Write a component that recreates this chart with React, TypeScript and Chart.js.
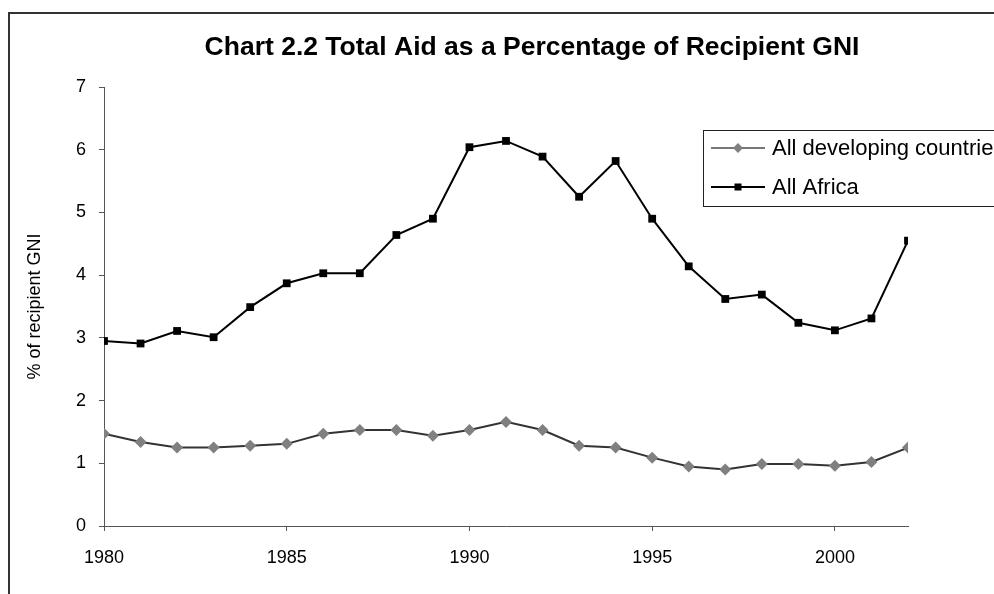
import { useEffect, useRef } from "react";
import { Chart, registerables } from "chart.js";

Chart.register(...registerables);

const TITLE = "Chart 2.2 Total Aid as a Percentage of Recipient GNI";
const Y_TITLE = "% of recipient GNI";
const YEARS = [1980, 1981, 1982, 1983, 1984, 1985, 1986, 1987, 1988, 1989, 1990, 1991, 1992, 1993, 1994, 1995, 1996, 1997, 1998, 1999, 2000, 2001, 2002];
const SERIES_LABELS = ["All developing countries", "All Africa"];
const DEVELOPING = [1.47, 1.34, 1.25, 1.25, 1.28, 1.31, 1.47, 1.53, 1.53, 1.44, 1.53, 1.66, 1.53, 1.28, 1.25, 1.09, 0.95, 0.9, 0.99, 0.99, 0.96, 1.02, 1.25];
const AFRICA = [2.95, 2.91, 3.11, 3.01, 3.49, 3.87, 4.03, 4.03, 4.64, 4.9, 6.04, 6.14, 5.89, 5.25, 5.82, 4.9, 4.14, 3.62, 3.69, 3.24, 3.12, 3.31, 4.55];
const X_TICKS = [1980, 1985, 1990, 1995, 2000];
const Y_TICKS = [0, 1, 2, 3, 4, 5, 6, 7];

const FONT = '"Liberation Sans", Arial, sans-serif';

const titlePlugin = {
  id: "customTitle",
  afterDraw(chart: any) {
    const ctx = chart.ctx;
    ctx.save();
    ctx.font = `bold 26.5px ${FONT}`;
    ctx.fillStyle = "#000";
    ctx.textAlign = "center";
    ctx.textBaseline = "middle";
    ctx.fillText(TITLE, 532, 48);
    ctx.restore();
  },
};

const legendPlugin = {
  id: "insideLegend",
  afterDraw(chart: any) {
    const ctx = chart.ctx;
    ctx.save();
    ctx.strokeStyle = "#222";
    ctx.lineWidth = 1;
    ctx.strokeRect(703.5, 130.5, 400, 76);
    const rows = [148, 187];
    chart.data.datasets.forEach((ds: any, i: number) => {
      const y = rows[i];
      ctx.strokeStyle = ds.legendLineColor || ds.borderColor;
      ctx.lineWidth = 2;
      ctx.beginPath();
      ctx.moveTo(711, y);
      ctx.lineTo(765, y);
      ctx.stroke();
      ctx.fillStyle = ds.pointBackgroundColor;
      ctx.beginPath();
      if (ds.pointStyle === "rectRot") {
        const r = 5;
        ctx.moveTo(738, y - r);
        ctx.lineTo(738 + r, y);
        ctx.lineTo(738, y + r);
        ctx.lineTo(738 - r, y);
        ctx.closePath();
      } else {
        ctx.rect(734.5, y - 3.5, 7, 7);
      }
      ctx.fill();
      ctx.fillStyle = "#000";
      ctx.font = `22px ${FONT}`;
      ctx.textAlign = "left";
      ctx.textBaseline = "middle";
      ctx.fillText(ds.label, 772, y + 1);
    });
    ctx.restore();
  },
};

export default function App() {
  const ref = useRef<HTMLCanvasElement | null>(null);

  useEffect(() => {
    if (!ref.current) return;
    const chart = new Chart(ref.current, {
      type: "line",
      data: {
        datasets: [
          {
            label: SERIES_LABELS[0],
            data: YEARS.map((x, i) => ({ x, y: DEVELOPING[i] })),
            borderColor: "#333333",
            legendLineColor: "#777777",
            borderWidth: 2,
            pointStyle: "rectRot",
            pointRadius: 6,
            pointBackgroundColor: "#808080",
            pointBorderColor: "#808080",
            pointBorderWidth: 0,
            tension: 0,
          } as any,
          {
            label: SERIES_LABELS[1],
            data: YEARS.map((x, i) => ({ x, y: AFRICA[i] })),
            borderColor: "#000000",
            borderWidth: 2,
            pointStyle: "rect",
            pointRadius: 5.5,
            pointBackgroundColor: "#000000",
            pointBorderColor: "#000000",
            pointBorderWidth: 0,
            tension: 0,
          } as any,
        ],
      },
      options: {
        animation: false,
        responsive: false,
        layout: { padding: { left: 0, right: 86, top: 87, bottom: 0 } },
        plugins: {
          legend: { display: false },
          title: { display: false },
          tooltip: { enabled: false },
        },
        scales: {
          x: {
            type: "linear",
            min: YEARS[0],
            max: YEARS[YEARS.length - 1],
            afterBuildTicks: (s: any) => {
              s.ticks = X_TICKS.map((value) => ({ value }));
            },
            afterFit: (s: any) => {
              s.height = 68;
            },
            grid: { drawOnChartArea: false, drawTicks: true, tickLength: 5, color: "#555" },
            border: { display: true, color: "#555", width: 1 },
            ticks: {
              color: "#000",
              font: { family: FONT, size: 18 },
              padding: 16,
              maxRotation: 0,
              callback: (v: any) => String(v),
            },
          },
          y: {
            type: "linear",
            min: Y_TICKS[0],
            max: Y_TICKS[Y_TICKS.length - 1],
            afterBuildTicks: (s: any) => {
              s.ticks = Y_TICKS.map((value) => ({ value }));
            },
            afterFit: (s: any) => {
              s.width = 104;
            },
            grid: { drawOnChartArea: false, drawTicks: true, tickLength: 5, color: "#555" },
            border: { display: true, color: "#555", width: 1 },
            ticks: {
              color: "#000",
              font: { family: FONT, size: 18 },
              padding: 13,
              callback: (v: any) => String(v),
            },
            title: {
              display: true,
              text: Y_TITLE,
              color: "#000",
              font: { family: FONT, size: 18 },
              padding: { top: 24, bottom: 0 },
            },
          },
        },
      },
      plugins: [titlePlugin, legendPlugin],
    });
    return () => chart.destroy();
  }, []);

  return (
    <div
      style={{
        position: "fixed",
        left: 0,
        top: 0,
        width: 994,
        height: 594,
        overflow: "hidden",
        background: "#fff",
      }}
    >
      <canvas
        ref={ref}
        width={994}
        height={594}
        style={{ position: "absolute", left: 0, top: 0, display: "block" }}
      />
      <div
        style={{
          position: "absolute",
          left: 8,
          top: 12,
          width: 2000,
          height: 2000,
          borderTop: "2px solid #333",
          borderLeft: "2px solid #333",
          pointerEvents: "none",
        }}
      />
    </div>
  );
}
